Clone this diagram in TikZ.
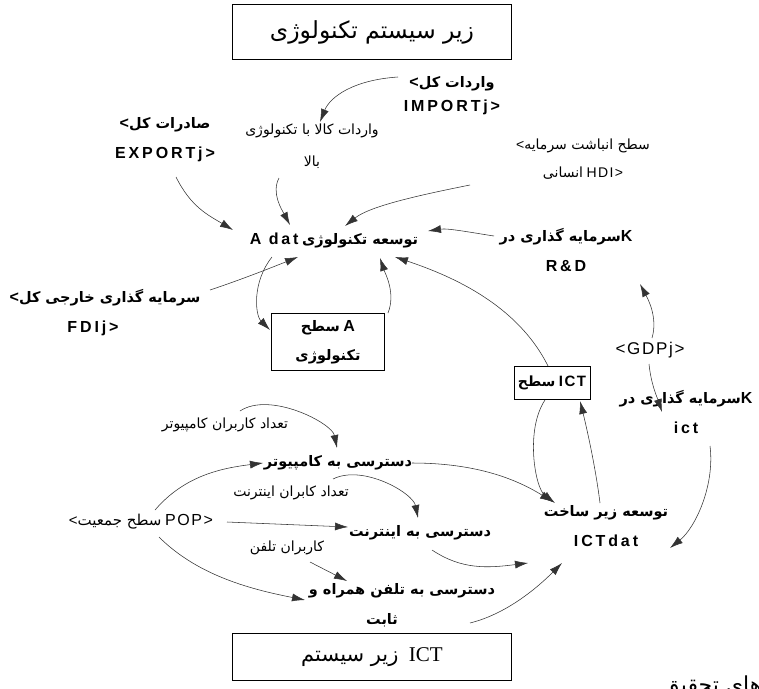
\documentclass[tikz,border=0pt]{standalone}
\usepackage{fontspec}
\usetikzlibrary{arrows.meta}
\setmainfont{Liberation Serif}
\newfontfamily\fa[Script=Arabic]{DejaVu Sans}
\newfontfamily\lat{Liberation Sans}
\newfontfamily\latsp[LetterSpace=18]{Liberation Sans}
\newfontfamily\latss[LetterSpace=10]{Liberation Sans}
\TeXXeTstate=1
\newcommand\FR[1]{{\fa\beginR#1\endR}}
\newcommand\FB[1]{{\fa\bfseries\beginR#1\endR}}
\newcommand\LB[1]{{\fontsize{16}{30}\selectfont\latsp\bfseries#1}}
\newcommand\LBs[1]{{\fontsize{15}{16}\selectfont\latss\bfseries#1}}
\newcommand\LR[1]{{\latss#1}}
\begin{document}
\begin{tikzpicture}[x=1pt,y=-1pt,
  box/.style={draw=black, line width=0.7pt, fill=white, inner sep=2pt, align=center},
  lab/.style={inner sep=1pt, align=center, font=\fontsize{14.5}{30}\selectfont},
  reg/.style={inner sep=1pt, align=center, font=\fontsize{14}{32}\selectfont},
  arr/.style={draw=black!80, line width=0.55pt, -{Latex[length=13pt,width=8pt]}}]
\useasboundingbox (0,0) rectangle (759,688);
% boxes
\node[box, minimum width=279pt, minimum height=55pt, font=\fontsize{23.5}{26}\selectfont] (tsub) at (372,32) {\FR{زیر سیستم تکنولوژی}};
\node[box, minimum width=113pt, minimum height=57pt, font=\fontsize{14.5}{29}\selectfont] (boxA) at (328,342) {\FB{سطح} \LB{A}\\\FB{تکنولوژی}};
\node[box, minimum width=76pt, minimum height=33pt, inner sep=1pt, font=\fontsize{14}{16}\selectfont] (ictbox) at (552,383) {\FB{سطح} \LBs{ICT}};
\node[box, minimum width=279pt, minimum height=47pt, font=\fontsize{21}{24}\selectfont] (bbox) at (372,657) {\FR{زیر سیستم}\ \ ICT};
% labels
\node[lab, font=\fontsize{14.5}{24}\selectfont] (imp) at (452,96) {\LB{<}\FB{واردات کل}\\\LB{IMPORTj>}};
\node[reg] (hitec) at (312,146) {\FR{واردات کالا با تکنولوژی}\\\FR{بالا}};
\node[lab] (exp) at (165,140) {\LB{<}\FB{صادرات کل}\\\LB{EXPORTj>}};
\node[reg, font=\fontsize{14}{28}\selectfont] (hdi) at (583,159) {\LR{<}\FR{سطح انباشت سرمایه}\\\FR{انسانی} \LR{HDI>}};
\node[lab] (adat) at (334,240) {\LB{A dat} \FB{توسعه تکنولوژی}};
\node[lab] (rd) at (566,250) {\FB{سرمایه گذاری در}\LB{K}\\\LB{R\&D}};
\node[lab] (fdi) at (105,313) {\LB{<}\FB{سرمایه گذاری خارجی کل}\\\LB{FDIj>}\rule{24pt}{0pt}};
\node[reg, font=\fontsize{17}{20}\selectfont] (gdp) at (650,350) {\LR{<GDPj>}};
\node[lab] (kict) at (686,412) {\FB{سرمایه گذاری در}\LB{K}\\\LB{ict}};
\node[reg] (tkc) at (225,425) {\FR{تعداد کاربران کامپیوتر}};
\node[lab] (dcomp) at (338,463) {\FB{دسترسی به کامپیوتر}};
\node[reg] (tki) at (291,493) {\FR{تعداد کابران اینترنت}};
\node[reg, font=\fontsize{15}{18}\selectfont] (pop) at (141,522) {\LR{<}\FR{سطح جمعیت} {\fontsize{16}{18}\selectfont\LR{POP>}}};
\node[lab] (dint) at (420,533) {\FB{دسترسی به اینترنت}};
\node[reg] (tel) at (287,548) {\FR{کاربران تلفن}};
\node[lab] (ictdat) at (606,526) {\FB{توسعه زیر ساخت}\\\LB{ICTdat}};
\node[lab] (dtel) at (402,605) {\FB{دسترسی به تلفن همراه و}\\\FB{ثابت}\rule{40pt}{0pt}};
\node[inner sep=0pt, anchor=north, font=\fontsize{22}{24}\selectfont] (cut) at (712,676) {\FR{های تحقیق}};
% connectors
\draw[arr] ([shift={(-54,-19)}]imp.center) .. controls +(-45,3) and +(10,-25) .. ([shift={(8,-24)}]hitec.center);
\draw[arr] ([shift={(-33,32)}]hitec.center) .. controls +(-8,15) and +(-8,-15) .. ([shift={(-44,-15)}]adat.center);
\draw[arr] ([shift={(11,37)}]exp.center) .. controls +(15,30) and +(-25,-15) .. ([shift={(-101,-10)}]adat.center);
\draw[arr] ([shift={(-113,26)}]hdi.center) .. controls +(-50,10) and +(25,-20) .. ([shift={(11,-14)}]adat.center);
\draw[arr] ([shift={(-72,-14)}]rd.center) .. controls +(-20,-3) and +(20,-3) .. ([shift={(94,-9)}]adat.center);
\draw[arr] ([shift={(-4,-17)}]ictbox.center) .. controls +(-30,-60) and +(60,20) .. ([shift={(61,17)}]adat.center);
\draw[arr] ([shift={(60,-29)}]boxA.center) .. controls +(8,-20) and +(5,15) .. ([shift={(46,18)}]adat.center);
\draw[arr] ([shift={(-62,17)}]adat.center) .. controls +(-20,25) and +(-15,-15) .. ([shift={(-58,-12)}]boxA.center);
\draw[arr] ([shift={(105,-23)}]fdi.center) .. controls +(30,-10) and +(-30,12) .. ([shift={(-36,17)}]adat.center);
\draw[arr] ([shift={(2,-12)}]gdp.center) .. controls +(6,-20) and +(8,15) .. ([shift={(74,34)}]rd.center);
\draw[arr] ([shift={(-1,14)}]gdp.center) .. controls +(2,20) and +(-5,-15) .. ([shift={(-24,0)}]kict.center);
\draw[arr] ([shift={(24,34)}]kict.center) .. controls +(5,40) and +(25,-20) .. ([shift={(64,22)}]ictdat.center);
\draw[arr] ([shift={(-7,17)}]ictbox.center) .. controls +(-20,30) and +(-20,-15) .. ([shift={(-51,-23)}]ictdat.center);
\draw[arr] ([shift={(-6,-23)}]ictdat.center) .. controls +(-5,-40) and +(5,20) .. ([shift={(28,18)}]ictbox.center);
\draw[arr] ([shift={(74,0)}]dcomp.center) .. controls +(60,0) and +(-40,-25) .. ([shift={(-53,-24)}]ictdat.center);
\draw[arr] ([shift={(15,-14)}]tkc.center) .. controls +(30,-20) and +(-5,-25) .. ([shift={(-1,-15)}]dcomp.center);
\draw[arr] ([shift={(14,-12)}]pop.center) .. controls +(30,-35) and +(-40,5) .. ([shift={(-75,0)}]dcomp.center);
\draw[arr] ([shift={(42,-14)}]tki.center) .. controls +(30,-15) and +(-5,-25) .. ([shift={(-2,-15)}]dint.center);
\draw[arr] ([shift={(86,0)}]pop.center) -- ([shift={(-72,-6)}]dint.center);
\draw[arr] ([shift={(18,15)}]pop.center) .. controls +(40,40) and +(-50,-10) .. ([shift={(-97,-5)}]dtel.center);
\draw[arr] ([shift={(23,14)}]tel.center) -- ([shift={(-55,-24)}]dtel.center);
\draw[arr] ([shift={(12,17)}]dint.center) .. controls +(30,20) and +(-40,5) .. ([shift={(-78,37)}]ictdat.center);
\draw[arr] ([shift={(68,18)}]dtel.center) .. controls +(40,-10) and +(-20,20) .. ([shift={(-44,37)}]ictdat.center);
\end{tikzpicture}
\end{document}
